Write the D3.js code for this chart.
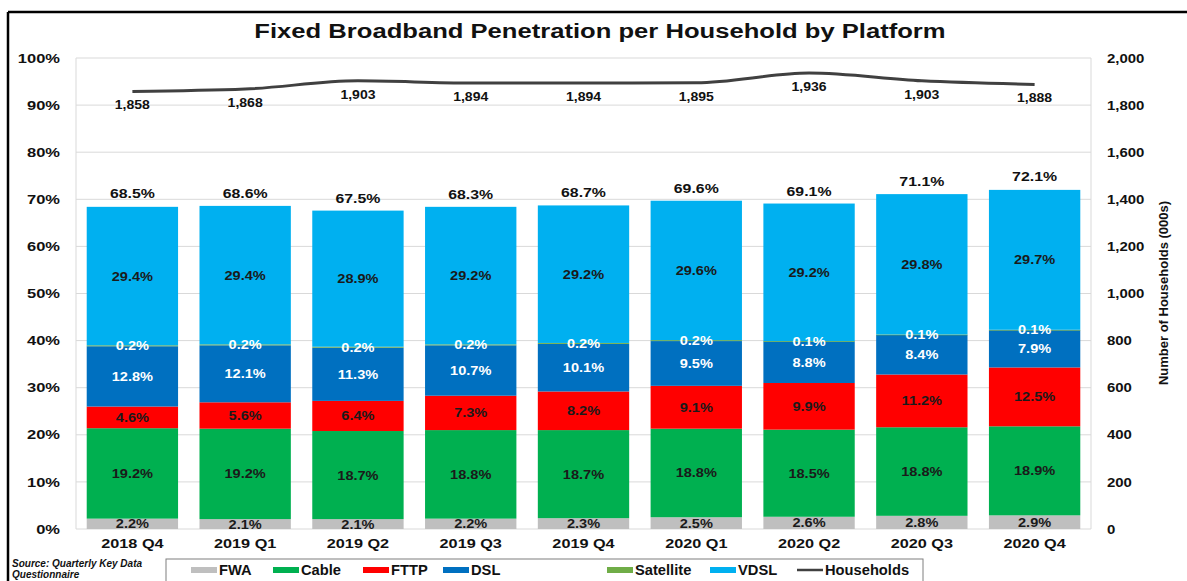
<!DOCTYPE html>
<html><head><meta charset="utf-8">
<script src="https://cdn.jsdelivr.net/npm/d3@7"></script>
<style>body{margin:0;background:#fff;font-family:"Liberation Sans",Arial,sans-serif;}svg text{font-family:"Liberation Sans",Arial,sans-serif;}</style>
</head><body>
<svg id="c" width="1187" height="581"></svg>
<script>
const categories = ["2018 Q4","2019 Q1","2019 Q2","2019 Q3","2019 Q4","2020 Q1","2020 Q2","2020 Q3","2020 Q4"];
const fwa = [2.2,2.1,2.1,2.2,2.3,2.5,2.6,2.8,2.9];
const cable = [19.2,19.2,18.7,18.8,18.7,18.8,18.5,18.8,18.9];
const fttp = [4.6,5.6,6.4,7.3,8.2,9.1,9.9,11.2,12.5];
const dsl = [12.8,12.1,11.3,10.7,10.1,9.5,8.8,8.4,7.9];
const satellite = [0.2,0.2,0.2,0.2,0.2,0.2,0.1,0.1,0.1];
const vdsl = [29.4,29.4,28.9,29.2,29.2,29.6,29.2,29.8,29.7];
const totals = [68.5,68.6,67.5,68.3,68.7,69.6,69.1,71.1,72.1];
const households = [1858,1868,1903,1894,1894,1895,1936,1903,1888];
const leftTicks = [0,10,20,30,40,50,60,70,80,90,100];
const rightTicks = [0,200,400,600,800,1000,1200,1400,1600,1800,2000];

const series = [
  {name:"FWA", values:fwa, color:"#bfbfbf", label:"#1a1a1a"},
  {name:"Cable", values:cable, color:"#00b050", label:"#1a1a1a"},
  {name:"FTTP", values:fttp, color:"#ff0000", label:"#1a1a1a"},
  {name:"DSL", values:dsl, color:"#0070c0", label:"#ffffff"},
  {name:"Satellite", values:satellite, color:"#70ad47", label:"#ffffff"},
  {name:"VDSL", values:vdsl, color:"#00b0f0", label:"#1a1a1a"}
];

function stretch(sel, sx){
  sel.each(function(){
    const t = d3.select(this);
    const x = +t.attr("x")||0, y = +t.attr("y")||0;
    t.attr("transform",`translate(${x},${y}) scale(${sx},1) translate(${-x},${-y})`);
  });
}

const svg = d3.select("#c");
const L = 76, R = 1091, T = 58, B = 529;

// outer frame
svg.append("line").attr("x1",8).attr("x2",1187).attr("y1",12).attr("y2",12).attr("stroke","#000").attr("stroke-width",2.5);
svg.append("line").attr("x1",8).attr("x2",8).attr("y1",12).attr("y2",581).attr("stroke","#000").attr("stroke-width",2.5);

const title = svg.append("text").attr("x",600).attr("y",38).attr("text-anchor","middle")
  .attr("font-size",20).attr("font-weight","bold").attr("fill","#111")
  .text("Fixed Broadband Penetration per Household by Platform");
stretch(title,1.28);

const x = d3.scaleBand().domain(categories).range([L,R]).paddingInner(0.19).paddingOuter(0.095);
const y = d3.scaleLinear().domain([0,100]).range([B,T]);
const y2 = d3.scaleLinear().domain([0,2000]).range([B,T]);

// grid
svg.append("g").selectAll("line").data(leftTicks).join("line")
  .attr("x1",L).attr("x2",R).attr("y1",d=>y(d)).attr("y2",d=>y(d))
  .attr("stroke","#d9d9d9").attr("stroke-width",1);
svg.append("line").attr("x1",L).attr("x2",L).attr("y1",T).attr("y2",B).attr("stroke","#d9d9d9");
svg.append("line").attr("x1",R).attr("x2",R).attr("y1",T).attr("y2",B).attr("stroke","#d9d9d9");

// axes
const la = svg.append("g").attr("transform",`translate(${L-13},0)`)
  .call(d3.axisLeft(y).tickValues(leftTicks).tickFormat(d=>d+"%").tickSize(0));
la.select(".domain").remove();
la.selectAll("text").attr("font-size",13).attr("font-weight","bold").attr("fill","#111").attr("font-family","Liberation Sans, Arial");
stretch(la.selectAll("text"),1.27);

const ra = svg.append("g").attr("transform",`translate(${R+13},0)`)
  .call(d3.axisRight(y2).tickValues(rightTicks).tickFormat(d3.format(",")).tickSize(0));
ra.select(".domain").remove();
ra.selectAll("text").attr("font-size",13).attr("font-weight","bold").attr("fill","#111").attr("font-family","Liberation Sans, Arial");
stretch(ra.selectAll("text"),1.15);

svg.append("text").attr("transform","translate(1168,293) rotate(-90)").attr("text-anchor","middle")
  .attr("font-size",13).attr("fill","#111").attr("font-weight","bold")
  .text("Number of Households (000s)");

const xa = svg.append("g").attr("transform",`translate(0,${B+4})`)
  .call(d3.axisBottom(x).tickSize(0));
xa.select(".domain").remove();
xa.selectAll("text").attr("font-size",13).attr("font-weight","bold").attr("fill","#111").attr("font-family","Liberation Sans, Arial").attr("dy","0.9em");
stretch(xa.selectAll("text"),1.25);

// stacks
const stackData = categories.map((c,i)=>{const o={cat:c}; series.forEach(s=>o[s.name]=s.values[i]); return o;});
const stack = d3.stack().keys(series.map(s=>s.name))(stackData);
const barG = svg.append("g");
const labG = svg.append("g");
stack.forEach((layer,li)=>{
  const s = series[li];
  barG.append("g").selectAll("rect").data(layer).join("rect")
    .attr("x",d=>x(d.data.cat)).attr("width",x.bandwidth())
    .attr("y",d=>y(d[1])).attr("height",d=>Math.max(0.8,y(d[0])-y(d[1])))
    .attr("fill",s.color);
  const t = labG.append("g").selectAll("text").data(layer).join("text")
    .attr("x",d=>x(d.data.cat)+x.bandwidth()/2)
    .attr("y",d=>y((d[0]+d[1])/2)+4.5)
    .attr("text-anchor","middle").attr("font-size",13).attr("font-weight","bold")
    .attr("fill",s.label)
    .text((d,i)=>s.values[i].toFixed(1)+"%");
  stretch(t,1.12);
});

// totals
const tt = svg.append("g").selectAll("text").data(categories).join("text")
  .attr("x",d=>x(d)+x.bandwidth()/2).attr("y",(d,i)=>y(totals[i])-8)
  .attr("text-anchor","middle").attr("font-size",13).attr("font-weight","bold").attr("fill","#111")
  .text((d,i)=>totals[i].toFixed(1)+"%");
stretch(tt,1.22);

// households line
const line = d3.line().x((d,i)=>x(categories[i])+x.bandwidth()/2).y(d=>y2(d)).curve(d3.curveMonotoneX);
svg.append("path").datum(households).attr("d",line).attr("fill","none").attr("stroke","#404040").attr("stroke-width",3);
const ht = svg.append("g").selectAll("text").data(households).join("text")
  .attr("x",(d,i)=>x(categories[i])+x.bandwidth()/2).attr("y",d=>y2(d)+18)
  .attr("text-anchor","middle").attr("font-size",13).attr("font-weight","bold").attr("fill","#111")
  .text(d=>d3.format(",")(d));
stretch(ht,1.08);

// source
svg.append("text").attr("x",12).attr("y",567).attr("font-size",10).attr("font-style","italic").attr("font-weight","bold").attr("fill","#111").text("Source: Quarterly Key Data");
svg.append("text").attr("x",12).attr("y",578).attr("font-size",10).attr("font-style","italic").attr("font-weight","bold").attr("fill","#111").text("Questionnaire");

// legend
svg.append("rect").attr("x",166).attr("y",559).attr("width",757).attr("height",40).attr("fill","#fff").attr("stroke","#7f7f7f").attr("stroke-width",1);
const legendItems = [
  {name:"FWA", color:"#bfbfbf", x:191, type:"rect"},
  {name:"Cable", color:"#00b050", x:273, type:"rect"},
  {name:"FTTP", color:"#ff0000", x:363, type:"rect"},
  {name:"DSL", color:"#0070c0", x:443, type:"rect"},
  {name:"Satellite", color:"#70ad47", x:607, type:"rect"},
  {name:"VDSL", color:"#00b0f0", x:710, type:"rect"},
  {name:"Households", color:"#404040", x:797, type:"line"}
];
const lg = svg.append("g");
legendItems.forEach(it=>{
  if(it.type==="rect") lg.append("rect").attr("x",it.x).attr("y",567).attr("width",26).attr("height",6).attr("fill",it.color);
  else lg.append("line").attr("x1",it.x).attr("x2",it.x+26).attr("y1",570).attr("y2",570).attr("stroke",it.color).attr("stroke-width",2.5);
  const t = lg.append("text").attr("x",it.x+28).attr("y",575).attr("font-size",14).attr("font-weight","bold").attr("fill","#111").text(it.name);
  stretch(t,1.05);
});
</script>
</body></html>
